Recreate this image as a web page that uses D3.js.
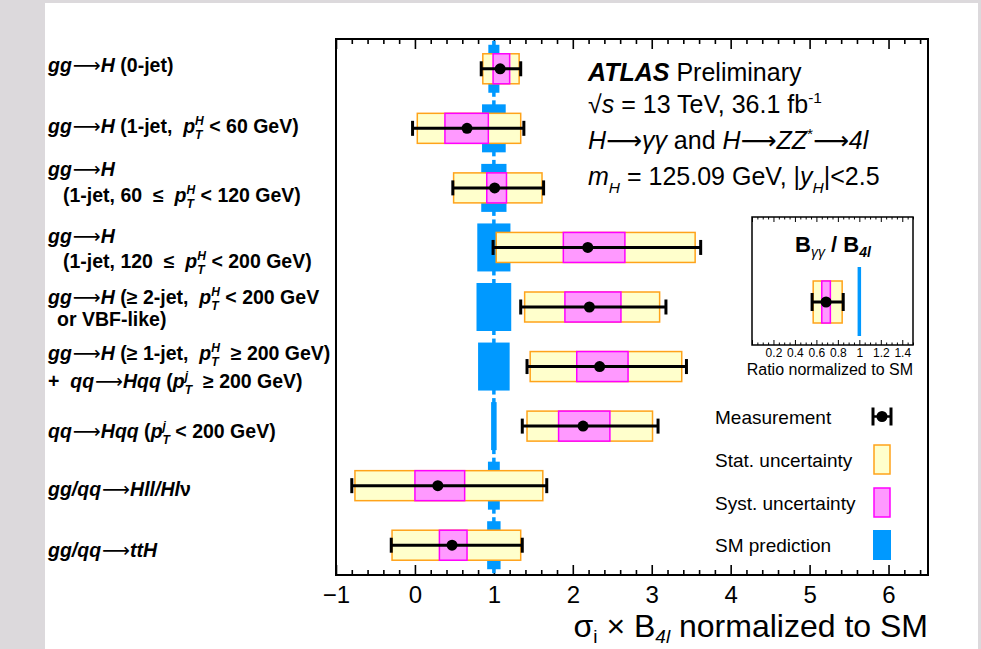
<!DOCTYPE html>
<html>
<head>
<meta charset="utf-8">
<script src="https://cdn.jsdelivr.net/npm/d3@7"></script>
<style>
  body { margin: 0; background: #dcd9dc; }
  svg { display: block; }
  text { font-family: "Liberation Sans", Arial, Helvetica, sans-serif; fill: #000; }
</style>
</head>
<body>
<script>
// Data
// *x* = italic, {sup|sub} = stacked super/subscript
const categoryLabels = [
    ["*gg*→*H* (0-jet)"],
    ["*gg*→*H* (1-jet,  *p*{*H*|*T*} < 60 GeV)"],
    ["*gg*→*H*", "(1-jet, 60  ≤  *p*{*H*|*T*} < 120 GeV)"],
    ["*gg*→*H*", "(1-jet, 120  ≤  *p*{*H*|*T*} < 200 GeV)"],
    ["*gg*→*H* (≥ 2-jet,  *p*{*H*|*T*} < 200 GeV", "or VBF-like)"],
    ["*gg*→*H* (≥ 1-jet,  *p*{*H*|*T*}  ≥ 200 GeV)", "+  *qq*→*Hqq* (*p*{*j*|*T*}  ≥ 200 GeV)"],
    ["*qq*→*Hqq* (*p*{*j*|*T*} < 200 GeV)"],
    ["*gg/qq*→*Hll/Hl*ν"],
    ["*gg/qq*→*ttH*"]
];
const central = [1.08, 0.66, 1.01, 2.19, 2.21, 2.34, 2.13, 0.29, 0.47];
const totalLo = [0.84, -0.03, 0.48, 0.99, 1.34, 1.42, 1.36, -0.80, -0.30];
const totalHi = [1.34, 1.38, 1.63, 3.62, 3.18, 3.44, 3.08, 1.67, 1.36];
const statLo  = [0.86, 0.03, 0.49, 1.03, 1.39, 1.46, 1.42, -0.76, -0.29];
const statHi  = [1.32, 1.34, 1.61, 3.55, 3.10, 3.38, 3.01, 1.62, 1.34];
const systLo  = [0.99, 0.38, 0.91, 1.88, 1.90, 2.05, 1.82, 0.00, 0.31];
const systHi  = [1.20, 0.93, 1.16, 2.66, 2.61, 2.70, 2.47, 0.63, 0.66];
const smValue = [1, 1, 1, 1, 1, 1, 1, 1, 1];
const smErr   = [0.07, 0.15, 0.16, 0.21, 0.22, 0.20, 0.035, 0.075, 0.085];
const xTicks = [-1, 0, 1, 2, 3, 4, 5, 6];

// ratio inset  B_yy / B_4l
const ratioCentral = 0.69;
const ratioTotal = [0.56, 0.85];
const ratioStat = [0.57, 0.84];
const ratioSyst = [0.65, 0.73];
const ratioTicks = [0.2, 0.4, 0.6, 0.8, 1, 1.2, 1.4];

const legendLabels = ["Measurement", "Stat. uncertainty", "Syst. uncertainty", "SM prediction"];
const infoLines = [
    "√*s* = 13 TeV, 36.1 fb{-1|}",
    "*H*→*γγ* and *H*→*ZZ*{*|}→*4l*",
    "*m*{|*H*} = 125.09 GeV, |*y*{|*H*}|<2.5"
];

// Colours
const C = {
    statFill: "#ffffcc", statLine: "#ffa31a",
    systFill: "#ff99ff", systLine: "#ff00ff",
    sm: "#0099ff"
};

// Rich text helper: italic, stacked scripts, long arrows
const richText = (text, str, size, arrowDx = 1) => {
    const re = /\*([^*]+)\*|\{([^|}]*)\|([^}]*)\}|(→)|([^*{→]+)/g;
    let m, off = 0, padX = 0;
    const add = (s, opts = {}) => {
        const target = opts.off || 0;
        const t = text.append("tspan").text(s);
        if (target - off) t.attr("dy", target - off);
        if (opts.dx || padX) t.attr("dx", (opts.dx || 0) + padX);
        padX = 0;
        off = target;
        if (opts.italic) t.attr("font-style", "italic");
        if (opts.size) t.attr("font-size", opts.size);
        if (opts.family) t.attr("font-family", opts.family).attr("font-weight", "normal");
        return t;
    };
    const strip = s => (s.length > 2 && s.startsWith("*") && s.endsWith("*"))
        ? [s.slice(1, -1), true] : [s, false];
    while ((m = re.exec(str))) {
        if (m[1] !== undefined) add(m[1], { italic: true });
        else if (m[4]) add("⟶", { family: "DejaVu Sans", dx: arrowDx });
        else if (m[5] !== undefined) add(m[5]);
        else {
            const fs = size * 0.62;
            let wSup = 0, wSub = 0;
            if (m[2]) {
                const [s, it] = strip(m[2]);
                wSup = add(s, { off: -size * 0.42, size: fs, italic: it }).node().getComputedTextLength();
            }
            if (m[3]) {
                const [s, it] = strip(m[3]);
                wSub = add(s, { off: size * 0.3, size: fs, italic: it, dx: m[2] ? -wSup : 0 }).node().getComputedTextLength();
            }
            padX = m[2] && m[3] ? Math.max(wSup - wSub, 0) : 0;
        }
    }
    return text;
};

// Layout
const W = 981, H = 649;
const plot = { left: 336, right: 928, top: 39, bottom: 575 };

const svg = d3.select("body").append("svg")
    .attr("width", W).attr("height", H);

svg.append("rect").attr("x", 45).attr("y", 3)
    .attr("width", 933).attr("height", H - 3).attr("fill", "#fff");

const x = d3.scaleLinear().domain([-1, 6.5]).range([plot.left, plot.right]);
const y = d3.scaleBand().domain(d3.range(central.length)).range([plot.top, plot.bottom]);
const yc = i => y(i) + y.bandwidth() / 2;

// Axes (ticks only, frame drawn separately)
const minorTicks = d3.range(-1, 6.51, 0.2).filter(v => Math.abs(v - Math.round(v)) > 0.01);

const bottomMajor = svg.append("g")
    .attr("transform", `translate(0,${plot.bottom})`)
    .call(d3.axisBottom(x).tickValues(xTicks).tickSizeInner(-10).tickSizeOuter(0).tickPadding(11));
svg.append("g").attr("transform", `translate(0,${plot.bottom})`)
    .call(d3.axisBottom(x).tickValues(minorTicks).tickSizeInner(-5).tickSizeOuter(0).tickFormat(""));
svg.append("g").attr("transform", `translate(0,${plot.top})`)
    .call(d3.axisTop(x).tickValues(xTicks).tickSizeInner(-10).tickSizeOuter(0).tickFormat(""));
svg.append("g").attr("transform", `translate(0,${plot.top})`)
    .call(d3.axisTop(x).tickValues(minorTicks).tickSizeInner(-5).tickSizeOuter(0).tickFormat(""));

svg.selectAll(".domain").remove();
svg.selectAll(".tick line").attr("stroke", "#000").attr("stroke-width", 1.6);
bottomMajor.selectAll("text")
    .attr("font-size", 24).attr("font-family", "Liberation Sans, Arial, sans-serif").attr("fill", "#000");

// SM prediction
const smG = svg.append("g");
central.forEach((_, i) => {
    smG.append("line")
        .attr("x1", x(smValue[i])).attr("x2", x(smValue[i]))
        .attr("y1", yc(i) - 28).attr("y2", yc(i) + 28)
        .attr("stroke", C.sm).attr("stroke-width", 3.5);
    smG.append("rect")
        .attr("x", x(smValue[i] - smErr[i])).attr("y", yc(i) - 24)
        .attr("width", x(smValue[i] + smErr[i]) - x(smValue[i] - smErr[i]))
        .attr("height", 48).attr("fill", C.sm);
});

// Stat / syst boxes
const boxes = (lo, hi, fill, line) => svg.append("g").selectAll("rect")
    .data(central).join("rect")
    .attr("x", (d, i) => x(lo[i])).attr("width", (d, i) => x(hi[i]) - x(lo[i]))
    .attr("y", (d, i) => yc(i) - 15).attr("height", 30)
    .attr("fill", fill).attr("stroke", line).attr("stroke-width", 1.5);
boxes(statLo, statHi, C.statFill, C.statLine);
boxes(systLo, systHi, C.systFill, C.systLine);

// Error bars + points
const eb = svg.append("g").attr("stroke", "#000").attr("stroke-width", 3);
central.forEach((c, i) => {
    eb.append("line").attr("x1", x(totalLo[i])).attr("x2", x(totalHi[i]))
        .attr("y1", yc(i)).attr("y2", yc(i));
    [totalLo[i], totalHi[i]].forEach(v => eb.append("line")
        .attr("x1", x(v)).attr("x2", x(v)).attr("y1", yc(i) - 7.5).attr("y2", yc(i) + 7.5));
});
svg.append("g").selectAll("circle").data(central).join("circle")
    .attr("cx", d => x(d)).attr("cy", (d, i) => yc(i)).attr("r", 5.5).attr("fill", "#000");

// Frame
svg.append("rect").attr("x", plot.left).attr("y", plot.top)
    .attr("width", plot.right - plot.left).attr("height", plot.bottom - plot.top)
    .attr("fill", "none").attr("stroke", "#000").attr("stroke-width", 2);

// Category labels
const labelIndent = [[0], [0], [0, 15], [0, 15], [0, 9], [0, 0], [0], [0], [0]];
const labelFirst = [72, 133, 176, 243, 304, 360, 438, 496, 557];
const labelGap = [0, 0, 26, 25, 22, 28, 0, 0, 0];
categoryLabels.forEach((lines, i) => {
    lines.forEach((ln, j) => {
        const t = svg.append("text")
            .attr("x", 48 + labelIndent[i][j]).attr("y", labelFirst[i] + j * labelGap[i])
            .attr("font-size", 19.5).attr("font-weight", "bold")
            .style("white-space", "pre");
        richText(t, ln, 19.5);
    });
});

// ATLAS info block
const info = svg.append("g");
const t0 = info.append("text").attr("x", 588).attr("y", 81).attr("font-size", 25);
t0.append("tspan").attr("font-weight", "bold").attr("font-style", "italic").text("ATLAS");
t0.append("tspan").text(" Preliminary");
const infoY = [113, 149, 185];
infoLines.forEach((ln, i) => {
    const t = info.append("text").attr("x", 588).attr("y", infoY[i])
        .attr("font-size", 25).style("white-space", "pre");
    richText(t, ln, 25, 0);
});

// Inset
const inset = { left: 752, right: 913, top: 217, bottom: 345 };
const ix = d3.scaleLinear().domain([0, 1.5]).range([inset.left, inset.right]);
const iMinor = d3.range(0, 1.501, 0.05).filter(v => Math.abs(v * 5 - Math.round(v * 5)) > 0.01);
const iMajor = d3.range(0, 1.401, 0.2);
const ib = svg.append("g").attr("transform", `translate(0,${inset.bottom})`)
    .call(d3.axisBottom(ix).tickValues(iMajor).tickSizeInner(-5).tickSizeOuter(0).tickPadding(3)
        .tickFormat(d => ratioTicks.some(r => Math.abs(r - d) < 1e-6) ? (Math.abs(d - 1) < 1e-6 ? "1" : d3.format(".1f")(d)) : ""));
svg.append("g").attr("transform", `translate(0,${inset.bottom})`)
    .call(d3.axisBottom(ix).tickValues(iMinor).tickSizeInner(-2.5).tickSizeOuter(0).tickFormat(""));
svg.append("g").attr("transform", `translate(0,${inset.top})`)
    .call(d3.axisTop(ix).tickValues(iMajor).tickSizeInner(-5).tickSizeOuter(0).tickFormat(""));
svg.append("g").attr("transform", `translate(0,${inset.top})`)
    .call(d3.axisTop(ix).tickValues(iMinor).tickSizeInner(-2.5).tickSizeOuter(0).tickFormat(""));
svg.selectAll(".domain").remove();
svg.selectAll(".tick line").attr("stroke", "#000");
ib.selectAll("text").attr("font-size", 12).attr("font-family", "Liberation Sans, Arial, sans-serif").attr("fill", "#000");
// drop the empty labels left by tick-only axes
svg.selectAll(".tick text").filter(function () { return !this.textContent; }).remove();

const ic = (inset.top + inset.bottom) / 2 + 21;
svg.append("line").attr("x1", ix(1)).attr("x2", ix(1))
    .attr("y1", ic - 35).attr("y2", ic + 34).attr("stroke", C.sm).attr("stroke-width", 3.5);
svg.append("rect").attr("x", ix(ratioStat[0])).attr("width", ix(ratioStat[1]) - ix(ratioStat[0]))
    .attr("y", ic - 21).attr("height", 42)
    .attr("fill", C.statFill).attr("stroke", C.statLine).attr("stroke-width", 1.5);
svg.append("rect").attr("x", ix(ratioSyst[0])).attr("width", ix(ratioSyst[1]) - ix(ratioSyst[0]))
    .attr("y", ic - 21).attr("height", 42)
    .attr("fill", C.systFill).attr("stroke", C.systLine).attr("stroke-width", 1.5);
const ieb = svg.append("g").attr("stroke", "#000").attr("stroke-width", 3);
ieb.append("line").attr("x1", ix(ratioTotal[0])).attr("x2", ix(ratioTotal[1])).attr("y1", ic).attr("y2", ic);
ratioTotal.forEach(v => ieb.append("line").attr("x1", ix(v)).attr("x2", ix(v)).attr("y1", ic - 9).attr("y2", ic + 9));
svg.append("circle").attr("cx", ix(ratioCentral)).attr("cy", ic).attr("r", 5.5).attr("fill", "#000");
svg.append("rect").attr("x", inset.left).attr("y", inset.top)
    .attr("width", inset.right - inset.left).attr("height", inset.bottom - inset.top)
    .attr("fill", "none").attr("stroke", "#000").attr("stroke-width", 1.5);

const it = svg.append("text").attr("x", 833).attr("y", 252).attr("text-anchor", "middle")
    .attr("font-size", 22).attr("font-weight", "bold");
it.append("tspan").text("B");
it.append("tspan").attr("font-size", 14).attr("font-style", "italic").attr("font-weight", "normal").attr("dy", 5).text("γγ");
it.append("tspan").attr("dy", -5).text(" / B");
it.append("tspan").attr("font-size", 14).attr("font-style", "italic").attr("dy", 5).text("4l");

svg.append("text").attr("x", inset.right).attr("y", 375).attr("text-anchor", "end")
    .attr("font-size", 16).text("Ratio normalized to SM");

// Legend
const legY = [416.5, 459.5, 502.5, 545];
const lg = svg.append("g");
legendLabels.forEach((l, i) => lg.append("text").attr("x", 715).attr("y", legY[i] + 7)
    .attr("font-size", 19).text(l));
lg.append("line").attr("x1", 873).attr("x2", 891).attr("y1", legY[0]).attr("y2", legY[0]).attr("stroke", "#000").attr("stroke-width", 2.5);
[873, 891].forEach(v => lg.append("line").attr("x1", v).attr("x2", v)
    .attr("y1", legY[0] - 9).attr("y2", legY[0] + 9).attr("stroke", "#000").attr("stroke-width", 3));
lg.append("circle").attr("cx", 882).attr("cy", legY[0]).attr("r", 5.5);
lg.append("rect").attr("x", 874).attr("y", legY[1] - 14.5).attr("width", 16).attr("height", 29)
    .attr("fill", C.statFill).attr("stroke", C.statLine).attr("stroke-width", 1.5);
lg.append("rect").attr("x", 874).attr("y", legY[2] - 14.5).attr("width", 16).attr("height", 29)
    .attr("fill", C.systFill).attr("stroke", C.systLine).attr("stroke-width", 1.5);
lg.append("rect").attr("x", 873).attr("y", legY[3] - 15).attr("width", 18).attr("height", 30)
    .attr("fill", C.sm);

// X axis title
const xt = svg.append("text").attr("x", plot.right).attr("y", 637)
    .attr("text-anchor", "end").attr("font-size", 32);
xt.append("tspan").text("σ");
xt.append("tspan").attr("font-size", 19).attr("dy", 6).text("i");
xt.append("tspan").attr("dy", -6).text(" × B");
xt.append("tspan").attr("font-size", 19).attr("dy", 6).attr("font-style", "italic").text("4l");
xt.append("tspan").attr("dy", -6).text(" normalized to SM");
</script>
</body>
</html>
